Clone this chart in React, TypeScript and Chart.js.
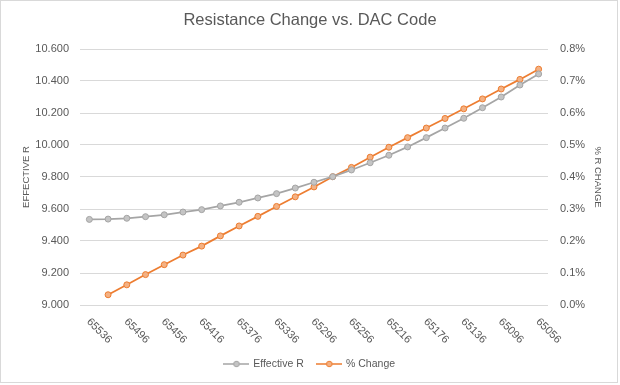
import React, { useEffect, useRef } from "react";
import { Chart, registerables } from "chart.js";

Chart.register(...registerables);

const dacCodes = [
  65536, 65516, 65496, 65476, 65456, 65436, 65416, 65396, 65376, 65356, 65336, 65316, 65296,
  65276, 65256, 65236, 65216, 65196, 65176, 65156, 65136, 65116, 65096, 65076, 65056,
];

const effectiveR = [
  9.535, 9.537, 9.542, 9.552, 9.564, 9.581, 9.596, 9.619, 9.642, 9.669, 9.696, 9.731, 9.767,
  9.802, 9.844, 9.889, 9.936, 9.988, 10.046, 10.106, 10.167, 10.233, 10.3, 10.375, 10.444,
];

const pctChange = [
  null, 0.032, 0.063, 0.095, 0.126, 0.156, 0.184, 0.216, 0.247, 0.277, 0.308, 0.338, 0.369,
  0.401, 0.43, 0.462, 0.493, 0.523, 0.553, 0.583, 0.613, 0.644, 0.675, 0.705, 0.737,
];

const seriesNames = ["Effective R", "% Change"];
const titleText = "Resistance Change vs. DAC Code";
const leftAxisTitle = "EFFECTIVE R";
const rightAxisTitle = "% R CHANGE";

const GRAY = "#A5A5A5";
const GRAY_FILL = "#C4C4C4";
const ORANGE = "#ED7D31";
const ORANGE_FILL = "#F4B183";
const TEXT = "#595959";
const FONT = "'Liberation Sans', Arial, sans-serif";

function legendSymbol(line: string, fill: string) {
  const c = document.createElement("canvas");
  c.width = 26;
  c.height = 8;
  const g = c.getContext("2d")!;
  g.strokeStyle = line;
  g.lineWidth = 1.5;
  g.beginPath();
  g.moveTo(0, 4);
  g.lineTo(26, 4);
  g.stroke();
  g.beginPath();
  g.arc(13, 4, 2.8, 0, Math.PI * 2);
  g.fillStyle = fill;
  g.fill();
  g.lineWidth = 1;
  g.stroke();
  return c;
}

export default function App() {
  const ref = useRef<HTMLCanvasElement | null>(null);

  useEffect(() => {
    if (!ref.current) return;
    const symbols = [legendSymbol(GRAY, GRAY_FILL), legendSymbol(ORANGE, ORANGE_FILL)];

    const framePlugin = {
      id: "frame",
      beforeDraw(chart: any) {
        const ctx = chart.ctx;
        ctx.save();
        ctx.fillStyle = "#ffffff";
        ctx.fillRect(0, 0, chart.width, chart.height);
        ctx.strokeStyle = "#D9D9D9";
        ctx.lineWidth = 1;
        ctx.strokeRect(0.5, 0.5, 617, 382);
        ctx.restore();
      },
    };

    const xLabelPlugin = {
      id: "xlabels",
      afterDraw(chart: any) {
        const ctx = chart.ctx;
        const xs = chart.scales.x;
        ctx.save();
        ctx.font = `11px ${FONT}`;
        ctx.fillStyle = TEXT;
        ctx.textAlign = "left";
        ctx.textBaseline = "middle";
        dacCodes.forEach((code, i) => {
          if (i % 2 !== 0) return;
          const x = xs.getPixelForValue(i);
          ctx.save();
          ctx.translate(x - 1, 320);
          ctx.rotate(Math.PI / 4);
          ctx.fillText(String(code), 0, 0);
          ctx.restore();
        });
        ctx.restore();
      },
    };

    const chart = new Chart(ref.current, {
      type: "line",
      data: {
        labels: dacCodes.map(String),
        datasets: [
          {
            label: seriesNames[0],
            data: effectiveR,
            yAxisID: "y",
            borderColor: GRAY,
            backgroundColor: GRAY_FILL,
            pointBackgroundColor: GRAY_FILL,
            pointBorderColor: GRAY,
            borderWidth: 1.75,
            pointRadius: 3,
            pointBorderWidth: 1,
            tension: 0,
          },
          {
            label: seriesNames[1],
            data: pctChange,
            yAxisID: "y1",
            borderColor: ORANGE,
            backgroundColor: ORANGE_FILL,
            pointBackgroundColor: ORANGE_FILL,
            pointBorderColor: ORANGE,
            borderWidth: 1.75,
            pointRadius: 3,
            pointBorderWidth: 1,
            tension: 0,
          },
        ],
      },
      options: {
        responsive: false,
        animation: false,
        devicePixelRatio: 1,
        layout: { padding: { left: 0, right: 0, top: 0, bottom: 5.75 } },
        plugins: {
          title: {
            display: true,
            text: titleText,
            color: TEXT,
            font: { family: FONT, size: 16.5, weight: "normal" },
            padding: { top: 11, bottom: 18.2 },
          },
          legend: {
            display: true,
            position: "bottom",
            labels: {
              color: TEXT,
              font: { family: FONT, size: 10.5 },
              usePointStyle: true,
              pointStyleWidth: 23,
              padding: 14,
              generateLabels(chart: any) {
                const items = Chart.defaults.plugins.legend.labels.generateLabels(chart);
                return items.map((it: any, i: number) => ({ ...it, pointStyle: symbols[i] }));
              },
            },
          },
          tooltip: { enabled: false },
        },
        scales: {
          x: {
            type: "category",
            offset: true,
            grid: { display: false },
            border: { display: false },
            ticks: { display: false },
            afterFit(scale: any) {
              scale.height = 39.75;
            },
          },
          y: {
            position: "left",
            min: 9.0,
            max: 10.6,
            grid: { color: "#D9D9D9", lineWidth: 1, drawTicks: false },
            border: { display: false },
            ticks: {
              stepSize: 0.2,
              padding: 11,
              color: TEXT,
              font: { family: FONT, size: 11 },
              callback: (v: any) => Number(v).toFixed(3),
            },
            title: {
              display: true,
              text: leftAxisTitle,
              color: TEXT,
              font: { family: FONT, size: 9.5 },
              padding: { top: 21, bottom: 0 },
            },
            afterFit(scale: any) {
              scale.width = 80;
            },
          },
          y1: {
            position: "right",
            min: 0,
            max: 0.8,
            grid: { display: false, drawTicks: false },
            border: { display: false },
            ticks: {
              stepSize: 0.1,
              padding: 12,
              color: TEXT,
              font: { family: FONT, size: 11 },
              callback: (v: any) => Number(v).toFixed(1) + "%",
            },
            title: {
              display: true,
              text: rightAxisTitle,
              color: TEXT,
              font: { family: FONT, size: 9.5 },
              padding: { top: 17, bottom: 0 },
            },
            afterFit(scale: any) {
              scale.width = 72;
            },
          },
        },
      },
      plugins: [framePlugin, xLabelPlugin],
    });

    return () => chart.destroy();
  }, []);

  return (
    <div style={{ position: "absolute", left: 0, top: 0, width: 620, height: 385 }}>
      <canvas ref={ref} width={620} height={385} />
    </div>
  );
}
